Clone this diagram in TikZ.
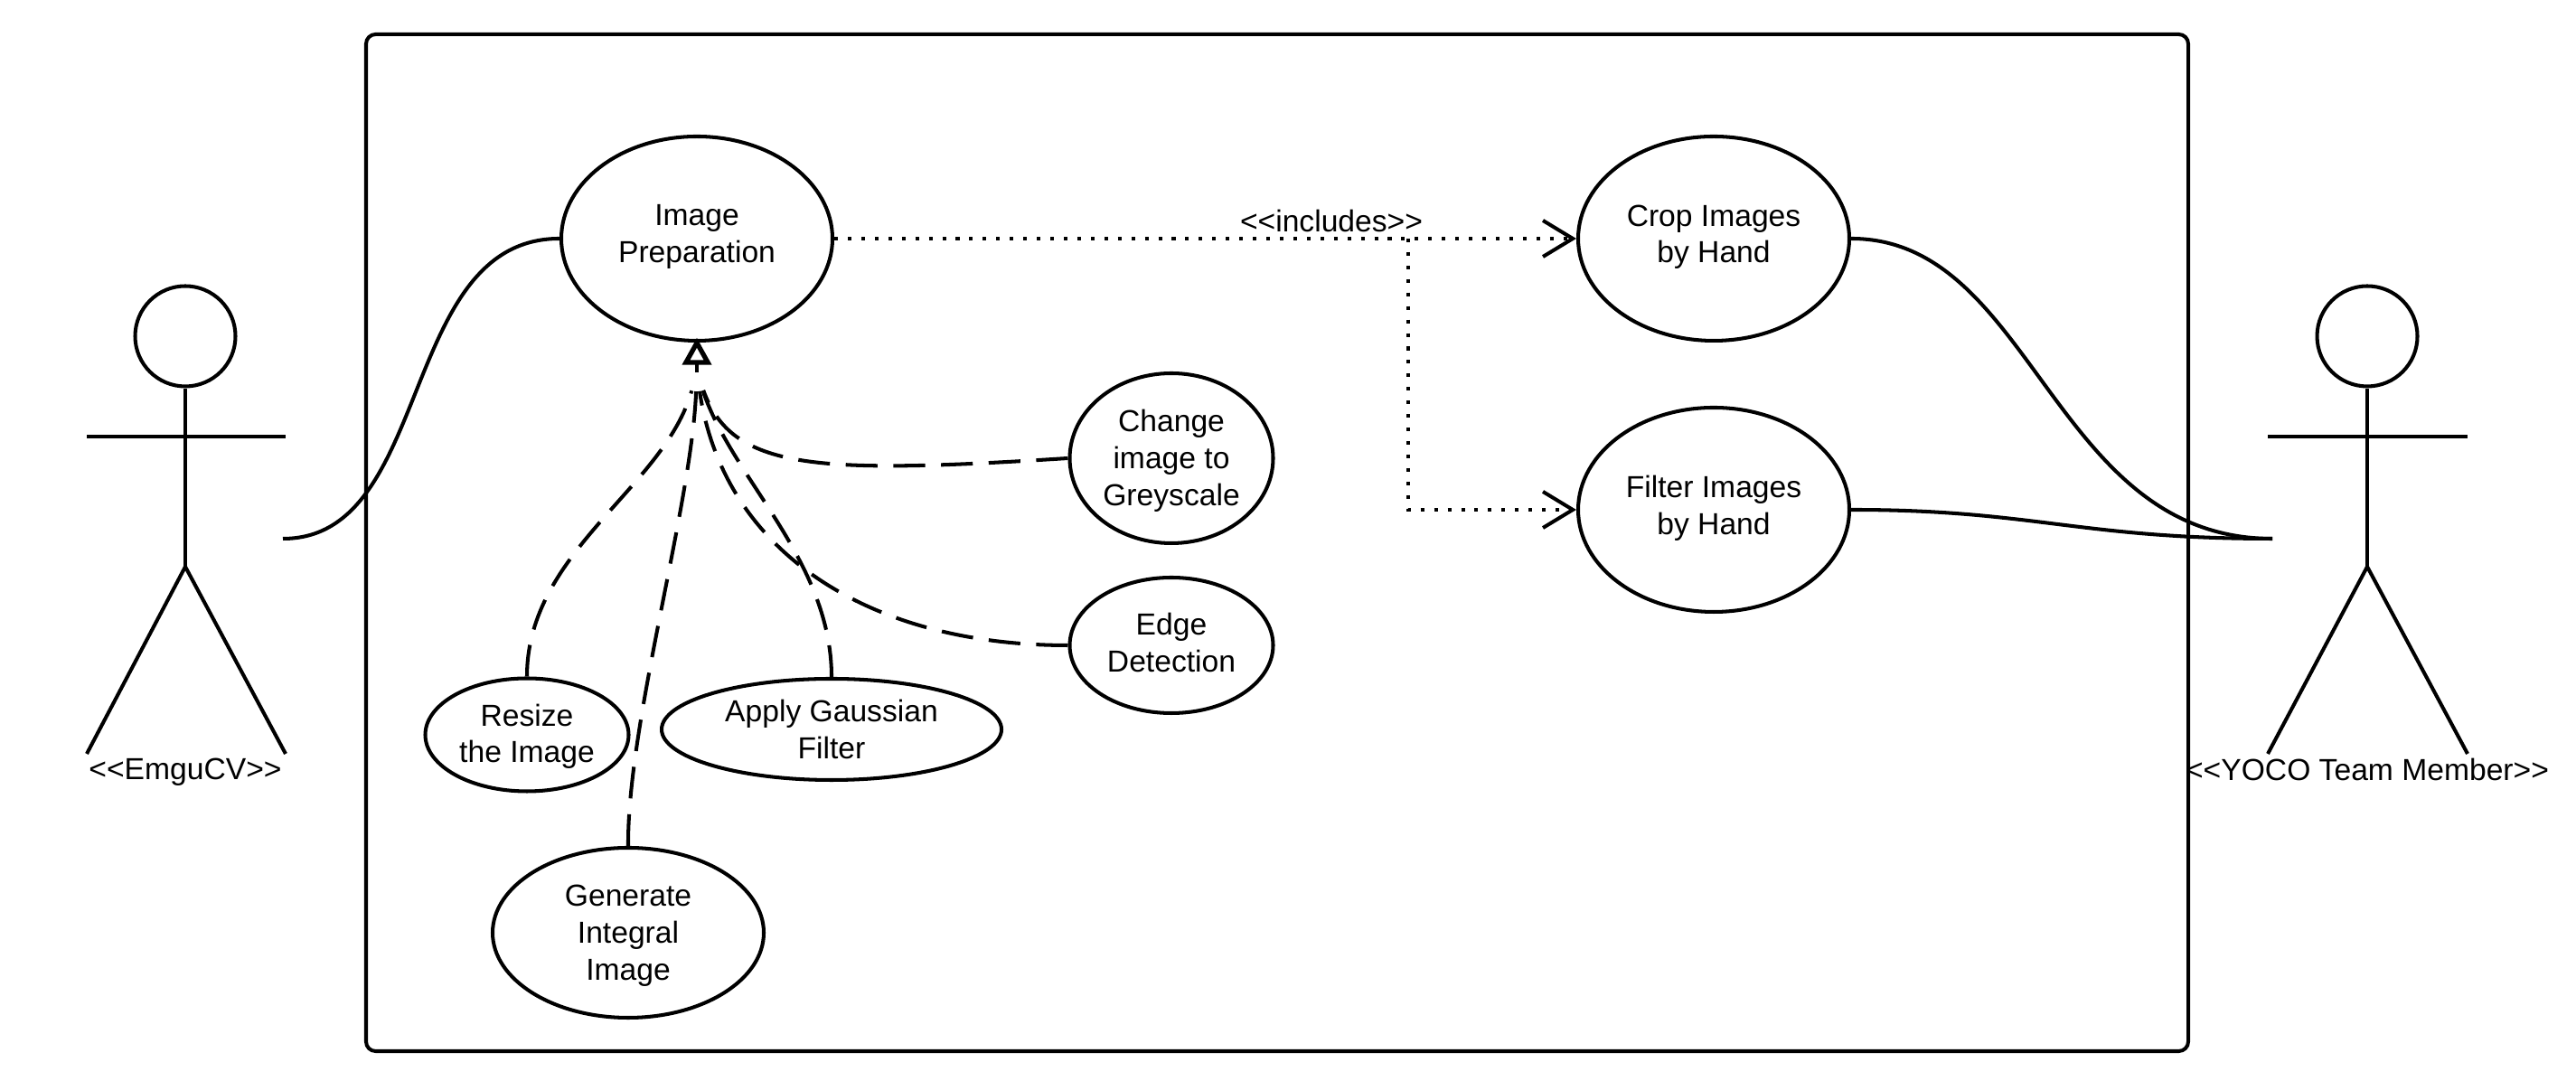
\documentclass[tikz,border=0pt]{standalone}
\usepackage{fontspec}
\setmainfont{Liberation Sans}
\usetikzlibrary{shapes.geometric,arrows.meta}
\tikzset{
  every node/.style={font=\fontsize{9.57}{11.6}\selectfont},
  usecase/.style={draw, ellipse, align=center, inner sep=0pt, line width=1.15pt},
  line/.style={line width=1.15pt},
  spec/.style={line width=1.15pt, dash pattern=on 10pt off 5pt, shorten >=6pt},
  incl/.style={line width=1.15pt, dash pattern=on 1.15pt off 3.1pt},
  inclarrow/.style={incl, -{Straight Barb[length=9.4pt,width=11.4pt,line width=1.15pt]}}
}
\begin{document}
\begin{tikzpicture}
\useasboundingbox (0,0) rectangle (28.5,11.96);
\node[draw, line width=1.15pt, rounded corners=3pt, minimum width=20.16cm, minimum height=11.25cm] (system) at (14.13,5.955) {};

\node[usecase, text depth=3pt, minimum width=3.00cm, minimum height=2.26cm] (prep) at (7.71,9.32) {Image\\ Preparation};
\node[usecase, text depth=3pt, minimum width=3.00cm, minimum height=2.26cm] (crop) at (18.96,9.32) {Crop Images\\ by Hand};
\node[usecase, text depth=3pt, minimum width=3.00cm, minimum height=2.26cm] (filter) at (18.96,6.32) {Filter Images\\ by Hand};
\node[usecase, text depth=0.5pt, minimum width=2.25cm, minimum height=1.88cm] (grey) at (12.96,6.89) {Change\\ image to\\ Greyscale};
\node[usecase, text depth=2pt, minimum width=2.25cm, minimum height=1.50cm] (edge) at (12.96,4.82) {Edge\\ Detection};
\node[usecase, text depth=1pt, minimum width=2.25cm, minimum height=1.25cm] (resize) at (5.83,3.83) {Resize\\ the Image};
\node[usecase, text depth=-1pt, minimum width=3.76cm, minimum height=1.12cm] (gauss) at (9.20,3.89) {Apply Gaussian\\ Filter};
\node[usecase, text depth=0pt, minimum width=3.00cm, minimum height=1.88cm] (integral) at (6.95,1.64) {Generate\\ Integral\\ Image};

% left actor
\node[draw, circle, line width=1.15pt, inner sep=0pt, minimum size=1.11cm] (emguhead) at (2.05,8.24) {};
\coordinate (emguhip) at (2.05,5.69);
\coordinate (emguhand) at (3.13,6.00);
\draw[line] (emguhead) -- (emguhip);
\draw[line] (0.96,7.13) -- (3.16,7.13);
\draw[line] (0.96,3.62) -- (emguhip) -- (3.16,3.62);
\node (emgulabel) at (2.05,3.42) {{<}{<}EmguCV{>}{>}};

% right actor
\node[draw, circle, line width=1.15pt, inner sep=0pt, minimum size=1.11cm] (yocohead) at (26.19,8.24) {};
\coordinate (yocohip) at (26.19,5.69);
\coordinate (yocohand) at (25.14,6.00);
\draw[line] (yocohead) -- (yocohip);
\draw[line] (25.09,7.13) -- (27.30,7.13);
\draw[line] (25.09,3.62) -- (yocohip) -- (27.30,3.62);
\node (yocolabel) at (26.19,3.45) {{<}{<}YOCO Team Member{>}{>}};

\draw[line] (emguhand) .. controls (4.80,6.00) and (4.40,9.32) .. (prep.west);
\draw[line] (crop.east) .. controls (22.50,9.32) and (22.70,6.00) .. (yocohand);
\draw[line] (filter.east) .. controls (22.50,6.32) and (23.00,6.00) .. (yocohand);

% the five dashed lines share one triangle
\coordinate (specjoin) at (7.71,7.84);
\draw[line, shorten >=-1.5pt, -{Triangle[open,length=8.5pt,width=9pt,line width=1.5pt]}] (specjoin) -- (prep.south);
\draw[spec] (resize.north) .. controls (5.83,5.86) and (7.35,6.56) .. (specjoin);
\draw[spec] (integral.north) .. controls (6.94,3.96) and (7.65,6.36) .. (specjoin);
\draw[spec] (gauss.north) .. controls (9.20,5.76) and (8.10,6.66) .. (specjoin);
\draw[spec] (edge.west) .. controls (9.60,4.82) and (8.00,5.86) .. (specjoin);
\draw[spec] (grey.west) .. controls (9.00,6.71) and (8.10,6.76) .. (specjoin);

\coordinate (branch) at (15.58,9.32);
\draw[inclarrow] (prep.east) -- (crop.west);
\draw[inclarrow] (branch) |- (filter.west);
\node (incllabel) at (14.73,9.51) {{<}{<}includes{>}{>}};
\end{tikzpicture}
\end{document}
